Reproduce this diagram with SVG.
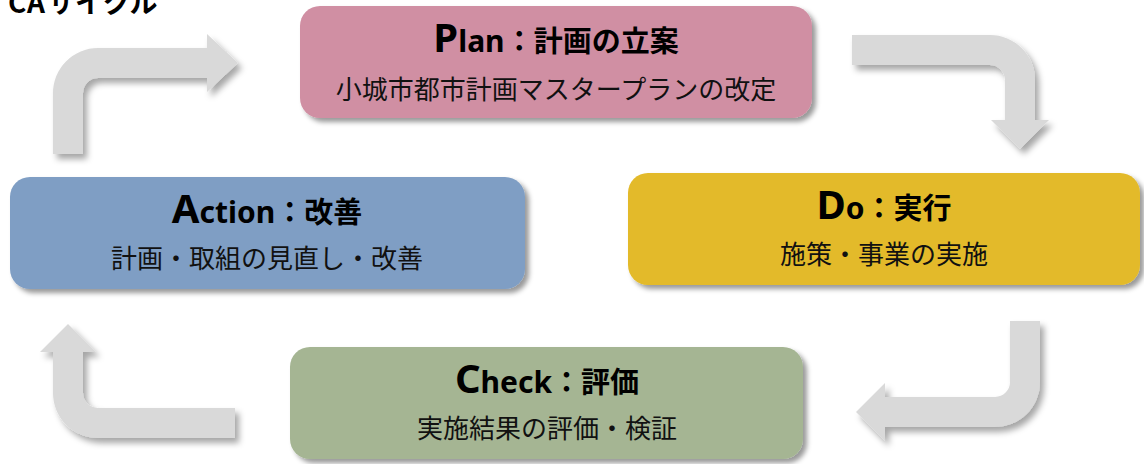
<svg xmlns="http://www.w3.org/2000/svg" width="1144" height="464" viewBox="0 0 1144 464">
<defs>
<filter id="sh" x="-10%" y="-10%" width="130%" height="140%">
<feDropShadow dx="4" dy="4" stdDeviation="2.5" flood-color="#000" flood-opacity="0.4"/>
</filter>
<filter id="ash" x="-20%" y="-20%" width="150%" height="150%">
<feDropShadow dx="4" dy="5" stdDeviation="3" flood-color="#000" flood-opacity="0.35"/>
</filter>
</defs>
<style>
.box{filter:url(#sh);}
.arrow{fill:#D9D9D9;filter:url(#ash);}
.t{font-family:"Noto Sans","Noto Sans CJK JP",sans-serif;font-weight:bold;fill:#000;text-anchor:middle;}
.big{font-size:40px;}
.mid{font-size:30px;}
.jp{font-family:"Noto Sans CJK JP",sans-serif;font-size:29px;font-weight:bold;}
.s{font-family:"Noto Sans CJK JP",sans-serif;font-size:26px;fill:#111;text-anchor:middle;}
.hdr{font-family:"Noto Sans CJK JP",sans-serif;font-size:28px;font-weight:bold;fill:#000;}
</style>
<text class="hdr" x="8" y="13">C<tspan x="27">A</tspan><tspan x="47">サイクル</tspan></text>
<g id="connectors">
<path id="a-to-p" class="arrow" d="M53,154 L53,93 A45,45 0 0 1 98,48 L207,48 L207,34 L238,63 L207,92 L207,78 L98,78 A15,15 0 0 0 83,93 L83,154 Z"/>
<path id="p-to-d" class="arrow" d="M852,35 L990,35 A45,45 0 0 1 1035,80 L1035,120 L1049,120 L1020,149 L991,120 L1005,120 L1005,80 A15,15 0 0 0 990,65 L852,65 Z"/>
<path id="d-to-c" class="arrow" d="M1010,321 L1040,321 L1040,382 A45,45 0 0 1 995,427 L885,427 L885,441 L856,412 L885,383 L885,397 L995,397 A15,15 0 0 0 1010,382 Z"/>
<path id="c-to-a" class="arrow" d="M235,408 L98,408 A15,15 0 0 1 83,393 L83,352 L96,352 L68,324 L40,352 L53,352 L53,393 A45,45 0 0 0 98,438 L235,438 Z"/>
</g>
<g id="plan">
<rect class="box" x="300" y="6" width="512" height="112" rx="20" fill="#D08FA3"/>
<text class="t" x="556" y="52"><tspan class="big">P</tspan><tspan class="mid">lan</tspan><tspan class="jp">：計画の立案</tspan></text>
<text class="s" x="556" y="99">小城市都市計画マスタープランの改定</text>
</g>
<g id="do">
<rect class="box" x="628" y="173" width="512" height="112" rx="20" fill="#E3BA2A"/>
<text class="t" x="884" y="219"><tspan class="big">D</tspan><tspan class="mid">o</tspan><tspan class="jp">：実行</tspan></text>
<text class="s" x="884" y="264">施策・事業の実施</text>
</g>
<g id="check">
<rect class="box" x="290" y="347" width="513" height="112" rx="20" fill="#A5B593"/>
<text class="t" x="547" y="393"><tspan class="big">C</tspan><tspan class="mid">heck</tspan><tspan class="jp">：評価</tspan></text>
<text class="s" x="547" y="438">実施結果の評価・検証</text>
</g>
<g id="action">
<rect class="box" x="10" y="177" width="515" height="112" rx="20" fill="#7F9EC4"/>
<text class="t" x="267" y="223"><tspan class="big">A</tspan><tspan class="mid">ction</tspan><tspan class="jp">：改善</tspan></text>
<text class="s" x="267" y="268">計画・取組の見直し・改善</text>
</g>
</svg>
